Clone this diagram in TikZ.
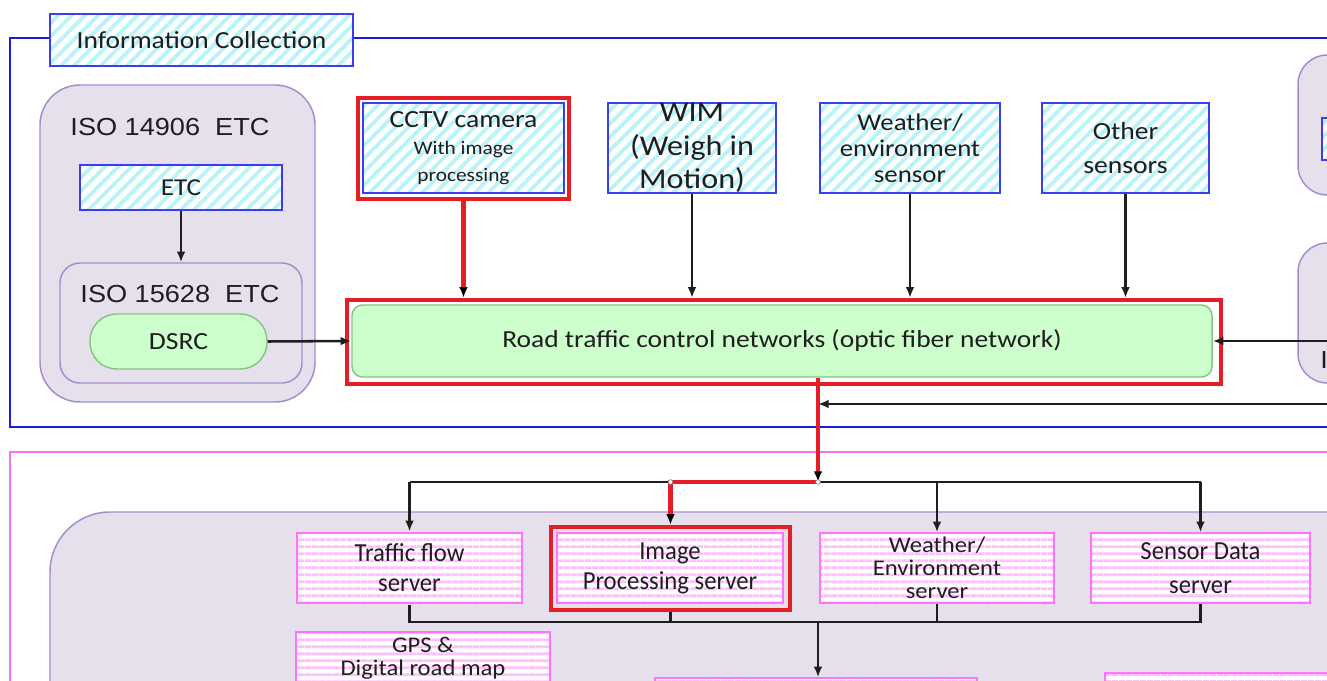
\documentclass[tikz,border=0pt]{standalone}
\usepackage{fontspec}
\setmainfont{Carlito}[FakeStretch=1.12]
\newfontfamily\srvfont{Carlito}[FakeStretch=0.95]
\newfontfamily\srvwide{Carlito}[FakeStretch=1.1]
\newfontfamily\isofont{Liberation Sans}[FakeStretch=1.1]
\usetikzlibrary{arrows.meta,patterns.meta}

\definecolor{frameblue}{RGB}{25,25,235}
\definecolor{framemag}{RGB}{250,110,250}
\definecolor{lav}{RGB}{229,224,236}
\definecolor{lavline}{RGB}{165,140,205}
\definecolor{mint}{RGB}{204,255,204}
\definecolor{mintline}{RGB}{135,195,135}
\definecolor{hatchcyan}{RGB}{185,243,250}
\definecolor{boxblue}{RGB}{60,60,240}
\definecolor{hatchpink}{RGB}{255,190,255}
\definecolor{boxpink}{RGB}{255,115,255}
\definecolor{hired}{RGB}{228,30,40}
\definecolor{ink}{RGB}{30,30,30}

\newcommand\fs[2]{\fontsize{#1}{#2}\selectfont}

\tikzset{
  % a box given by its corners, in pixel units
  area/.style n args={4}{at={({(#1+#3)/2},{(#2+#4)/2})},
    minimum width={(#3-#1)*0.75pt}, minimum height={(#4-#2)*0.75pt}},
  cyanbox/.style={inner sep=0pt, draw=boxblue, line width=1.1pt,
    preaction={fill=white},
    pattern={Lines[angle=45,distance=7pt,line width=2.8pt]},
    pattern color=hatchcyan, align=center, text=ink},
  pinkbox/.style={inner sep=0pt, draw=boxpink, line width=1.1pt,
    preaction={fill=white},
    pattern={Lines[angle=0,distance=5.4pt,line width=2.4pt]},
    pattern color=hatchpink, align=center, text=ink},
  lavbox/.style={inner sep=0pt, draw=lavline, line width=1.1pt, fill=lav},
  greenbox/.style={inner sep=0pt, draw=mintline, line width=1.1pt,
    fill=mint, align=center, text=ink},
  redframe/.style={inner sep=0pt, draw=hired, line width=3.2pt},
  conn/.style={line width=1.9pt, ink},
  arr/.style={conn, -{Latex[length=8pt,width=6.5pt]}},
  redconn/.style={line width=3.2pt, hired},
  redarr/.style={redconn, -{Latex[length=8pt,width=6.5pt,black]}},
  jdot/.style={circle, fill=white, draw=gray, line width=0.5pt,
    inner sep=0pt, minimum size=3.5pt},
  isolabel/.style={font=\isofont\fs{18.5}{22}, text=ink, inner sep=0pt},
}

\begin{document}
\begin{tikzpicture}[x=0.75pt,y=-0.75pt]
\useasboundingbox (0,0) rectangle (1327,681);
\clip (0,0) rectangle (1327,681);
\fill[white] (0,0) rectangle (1327,681);

% section frames
\draw[frameblue, line width=1.6pt] (1340,38) -- (10,38) -- (10,427) -- (1340,427);
\draw[framemag, line width=1.6pt] (1340,452) -- (10,452) -- (10,700);
\node[cyanbox, area={50}{14}{353}{66}, font=\fs{18.4}{22}] (title) {Information Collection};

% ETC group
\node[lavbox, rounded corners=30pt, area={40}{85}{315}{402}] (iso1) {};
\node[isolabel] (iso1lbl) at (170,127) {ISO 14906\ \ ETC};
\node[cyanbox, area={80}{165}{282}{210}, font=\fs{18.2}{22}] (etc) {ETC};
\node[lavbox, rounded corners=15pt, area={60}{263}{302}{383}] (iso2) {};
\node[isolabel] (iso2lbl) at (180,294) {ISO 15628\ \ ETC};
\node[greenbox, rounded corners=20pt, area={90}{314}{267}{369}, font=\fs{18.5}{22}] (dsrc) {DSRC};

% network
\node[greenbox, rounded corners=8pt, area={352}{305}{1212}{377}, font=\fs{18.4}{22}] (road)
  {Road traffic control networks (optic fiber network)};
\node[redframe, area={347}{300}{1221}{384}] (roadR) {};

% field sensors
\node[cyanbox, area={363}{103}{564}{193}, font=\fs{14.3}{20}] (cctv)
  {{\fs{18.5}{20}CCTV camera}\\With image\\processing};
\node[redframe, area={358}{98}{569}{199}] (cctvR) {};
\node[cyanbox, area={608}{103}{776}{193}, font=\fs{21.5}{25}] (wim) {WIM\\(Weigh in\\Motion)};
\node[cyanbox, area={820}{103}{1000}{193}, font=\fs{18}{19.5}] (wsens) {Weather/\\environment\\sensor};
\node[cyanbox, area={1042}{103}{1209}{193}, font=\fs{18.5}{25.5}] (other) {Other\\sensors};

% groups continuing to the right
\node[lavbox, rounded corners=22pt, area={1298}{55}{1420}{195}] (rgrp1) {};
\node[cyanbox, area={1322}{118}{1420}{160}] (rbox1) {};
\node[lavbox, rounded corners=22pt, area={1298}{243}{1420}{383}] (rgrp2) {};
\node[isolabel, anchor=west] (rlbl) at (1320,360) {I};

% servers
\node[lavbox, rounded corners=45pt, area={50}{512}{1420}{800}] (srvgrp) {};
\node[pinkbox, area={297}{533}{522}{603}, font=\srvfont\fs{19.5}{22.5}] (traffic) {Traffic flow\\server};
\node[pinkbox, area={557}{533}{783}{603}, font=\srvfont\fs{19.5}{22.5}] (img) {Image\\Processing server};
\node[redframe, area={551}{527}{790}{610}] (imgR) {};
\node[pinkbox, area={820}{533}{1054}{603}, font=\srvwide\fs{16.8}{17.2}] (wserv) {Weather/\\Environment\\server};
\node[pinkbox, area={1091}{533}{1310}{603}, font=\srvfont\fs{19.5}{25}] (sensor) {Sensor Data\\server};
\node[pinkbox, area={296}{632}{550}{684}, font=\srvwide\fs{16.8}{17}] (gps) {GPS \&\\Digital road map};
\node[pinkbox, area={655}{678}{977}{760}] (out1) {};
\node[pinkbox, area={1105}{673}{1420}{760}] (out2) {};

% connectors: upper section
\draw[arr] (etc.south) -- (etc.south |- iso2.north);
\draw[arr] (dsrc.east) -- (road.west);
\draw[redarr] (cctvR.south) -- (cctvR.south |- roadR.north);
\draw[arr] (wim.south) -- (wim.south |- roadR.north);
\draw[arr] (wsens.south) -- (wsens.south |- roadR.north);
\draw[arr] (other.south) -- (other.south |- roadR.north);
\coordinate (eastin) at (1340,341);
\draw[arr] (eastin) -- (road.east);

% distribution to servers
\coordinate (hub) at (818,482);
\coordinate (fbin) at (1340,404);
\draw[conn] (traffic.north |- hub) -- (sensor.north |- hub);
\draw[arr] (traffic.north |- hub) -- (traffic.north);
\draw[arr] (wserv.north |- hub) -- (wserv.north);
\draw[arr] (sensor.north |- hub) -- (sensor.north);
\draw[redarr] (hub |- road.south) -- (hub);
\coordinate (turn) at (imgR.north |- hub);
\draw[redarr] (hub) -- (turn) -- (imgR.north);
\draw[arr] (fbin) -- (fbin -| hub);
\node[jdot] (hubdot) at (hub) {};
\node[jdot] (turndot) at (turn) {};

% collection from servers
\coordinate (lowbus) at (818,622);
\draw[conn] (traffic.south) |- (lowbus) -| (sensor.south);
\draw[conn] (imgR.south) -- (imgR.south |- lowbus);
\draw[conn] (wserv.south) -- (wserv.south |- lowbus);
\draw[arr] (lowbus) -- (lowbus |- out1.north);
\end{tikzpicture}
\end{document}
